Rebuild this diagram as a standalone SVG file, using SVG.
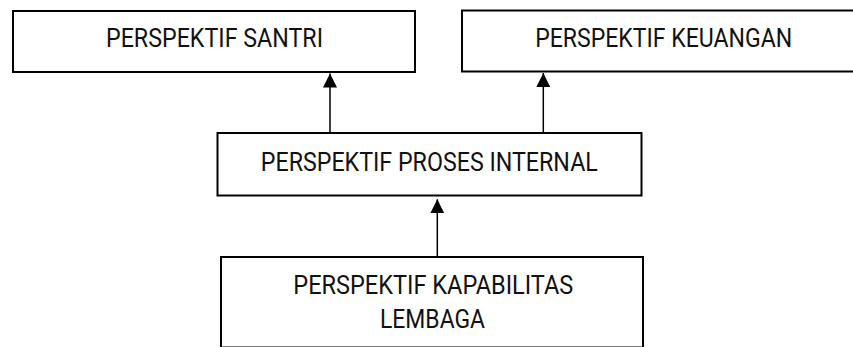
<svg xmlns="http://www.w3.org/2000/svg" width="853" height="347" viewBox="0 0 853 347">
  <style>
    .box { fill: #ffffff; stroke: #000000; stroke-width: 2; }
    .lbl { font-family: Roboto, "Liberation Sans", sans-serif; font-size: 26px; fill: #111111; text-anchor: middle; }
    .conn { stroke: #000000; stroke-width: 1.5; fill: none; }
  </style>
  <defs>
    <marker id="arr" markerUnits="userSpaceOnUse" markerWidth="14" markerHeight="14" refX="14" refY="7" orient="auto">
      <path d="M0,0 L14,7 L0,14 z" fill="#000000"/>
    </marker>
  </defs>
  <rect x="0" y="0" width="853" height="347" fill="#ffffff"/>
  <g id="santri">
    <rect class="box" x="13" y="11" width="402" height="61"/>
    <text class="lbl" x="214.5" y="46.7" textLength="217" lengthAdjust="spacingAndGlyphs">PERSPEKTIF SANTRI</text>
  </g>
  <g id="keuangan">
    <rect class="box" x="462" y="10.5" width="404" height="61"/>
    <text class="lbl" x="663.7" y="46.7" textLength="257" lengthAdjust="spacingAndGlyphs">PERSPEKTIF KEUANGAN</text>
  </g>
  <g id="proses">
    <rect class="box" x="217.5" y="133" width="424" height="62.5"/>
    <text class="lbl" x="429.3" y="170.7" textLength="337" lengthAdjust="spacingAndGlyphs">PERSPEKTIF PROSES INTERNAL</text>
  </g>
  <g id="kapabilitas">
    <rect class="box" x="221" y="257" width="422" height="90.5"/>
    <text class="lbl" x="433.3" y="294" textLength="280" lengthAdjust="spacingAndGlyphs">PERSPEKTIF KAPABILITAS</text>
    <text class="lbl" x="432.5" y="327.7" textLength="105" lengthAdjust="spacingAndGlyphs">LEMBAGA</text>
  </g>
  <g id="connectors">
    <line class="conn" x1="330" y1="132" x2="330" y2="73.5" marker-end="url(#arr)"/>
    <line class="conn" x1="543.3" y1="132" x2="543.3" y2="73" marker-end="url(#arr)"/>
    <line class="conn" x1="437.3" y1="256" x2="437.3" y2="199.3" marker-end="url(#arr)"/>
  </g>
</svg>
